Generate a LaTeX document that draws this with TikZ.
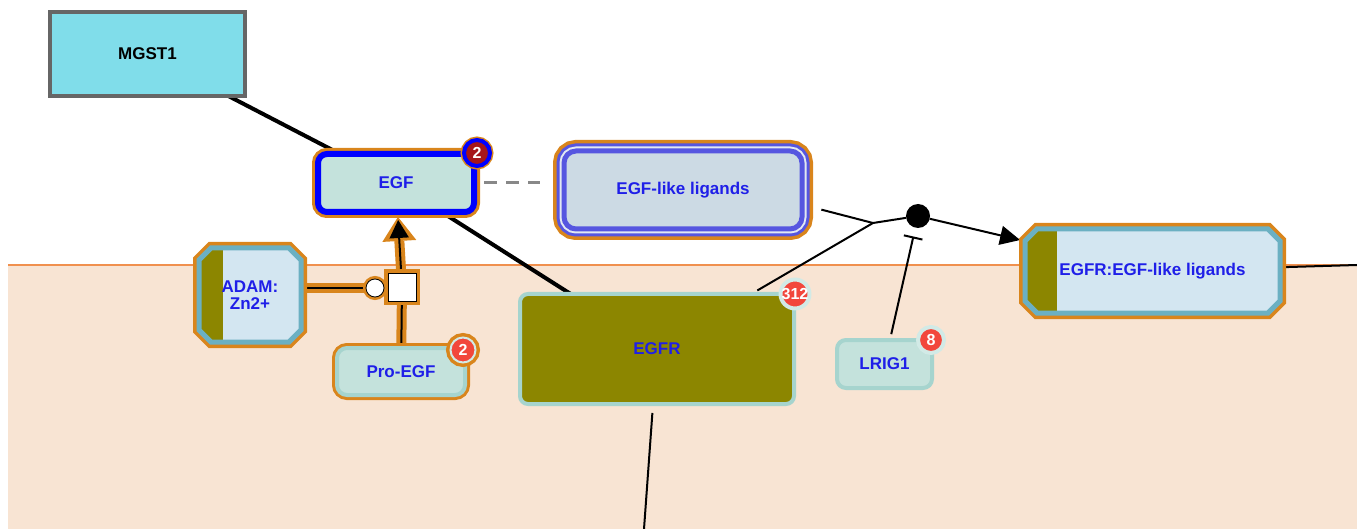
\documentclass[tikz,border=0pt]{standalone}
\usepackage{fontspec}
\setmainfont{Liberation Sans}
\usetikzlibrary{arrows.meta,calc}

\pgfdeclarelayer{cytosol}
\pgfdeclarelayer{links}
\pgfdeclarelayer{shells}
\pgfsetlayers{cytosol,links,shells,main}

\definecolor{cyto}{HTML}{F8E4D3}
\definecolor{membrane}{HTML}{F0904E}
\definecolor{halo}{HTML}{D9851C}
\definecolor{pale}{HTML}{C4E2DC}
\definecolor{iceblue}{HTML}{D3E6F1}
\definecolor{olivegreen}{HTML}{8C8600}
\definecolor{tealedge}{HTML}{A6D4CE}
\definecolor{tealdark}{HTML}{6BB0C2}
\definecolor{labelblue}{HTML}{1F1FE8}
\definecolor{pureblue}{HTML}{0000FF}
\definecolor{ligblue}{HTML}{5656E0}
\definecolor{ligfill}{HTML}{CCDAE4}
\definecolor{ligshine}{HTML}{E2E8F2}
\definecolor{mgstfill}{HTML}{80DDEA}
\definecolor{mgstedge}{HTML}{666666}
\definecolor{badgered}{HTML}{F2473C}
\definecolor{badgedark}{HTML}{A6161A}
\definecolor{dashgray}{HTML}{888888}

% chamfered outline of a complex, built on the anchors of node #1, cut size #2
\newcommand\octpath[2]{($(#1.north west)+(#2,0)$) -- ($(#1.north east)+(-#2,0)$)
  -- ($(#1.north east)+(0,#2)$) -- ($(#1.south east)+(0,-#2)$)
  -- ($(#1.south east)+(-#2,0)$) -- ($(#1.south west)+(#2,0)$)
  -- ($(#1.south west)+(0,-#2)$) -- ($(#1.north west)+(0,#2)$) -- cycle}

\tikzset{
  box/.style={rectangle, inner sep=0pt, outer sep=0pt, text=labelblue,
    font=\fontsize{17}{16.5}\selectfont\bfseries, align=center},
  mgstbox/.style={box, fill=mgstfill, draw=mgstedge, line width=4, text=black,
    minimum width=195, minimum height=84},
  egfbox/.style={box, rounded corners=9, fill=pale, draw=pureblue, line width=6,
    preaction={draw=halo, line width=12}, minimum width=156, minimum height=58},
  ligbox/.style={box, rounded corners=12, fill=ligfill, draw=ligblue, line width=5,
    preaction={draw=halo, line width=22},
    preaction={draw=ligblue, line width=15},
    preaction={draw=ligshine, line width=9},
    minimum width=238, minimum height=78},
  egfrbox/.style={box, rounded corners=8, fill=olivegreen, draw=tealedge, line width=4,
    minimum width=274, minimum height=110},
  lrigbox/.style={box, rounded corners=9, fill=pale, draw=tealedge, line width=4,
    minimum width=95, minimum height=48},
  probox/.style={box, rounded corners=10, fill=pale, draw=tealedge, line width=4,
    preaction={draw=halo, line width=10}, minimum width=128, minimum height=47},
  cplxframe/.style={box},
  badge/.style={circle, inner sep=0pt, outer sep=0pt, minimum size=26, fill=badgered,
    draw=tealedge!50!white, line width=4, text=white,
    font=\fontsize{16}{16}\selectfont\bfseries},
  darkbadge/.style={badge, fill=badgedark, draw=pureblue, line width=4,
    preaction={draw=halo, line width=7}},
  probadge/.style={badge, minimum size=25, draw=tealedge!50!white, line width=2,
    preaction={draw=halo, line width=9}},
  procbox/.style={rectangle, inner sep=0pt, outer sep=0pt, minimum size=28, fill=white,
    draw=black, line width=0.8, preaction={draw=halo, line width=8}},
  portcirc/.style={circle, inner sep=0pt, outer sep=0pt, minimum size=18, fill=white,
    draw=black, line width=0.8, preaction={draw=halo, line width=6}},
  dotnode/.style={circle, inner sep=0pt, outer sep=0pt, minimum size=24, fill=black},
  link/.style={draw=black, line width=2},
  heavy/.style={draw=black, line width=4},
  haloline/.style={draw=halo, line width=10},
}

\begin{document}
\begin{tikzpicture}[x=1pt,y=-1pt]
\useasboundingbox (0,0) rectangle (1357,529);

% cytosol and plasma membrane
\begin{pgfonlayer}{cytosol}
  \fill[cyto] (8,265) rectangle (1357,529);
  \draw[membrane, line width=2] (8,265) -- (1357,265);
\end{pgfonlayer}

% entities
\node[mgstbox] (mgst) at (147.5,54) {MGST1};
\node[egfbox] (egf) at (396,183) {EGF};
\node[darkbadge] (egfbadge) at (477,153) {2};
\node[ligbox] (lig) at (683,190) {EGF-like ligands};
\node[egfrbox] (egfr) at (657,349) {EGFR};
\node[badge] (egfrbadge) at (795,294) {312};
\node[lrigbox] (lrig) at (884.5,364) {LRIG1};
\node[badge] (lrigbadge) at (931,340) {8};
\node[probox] (proegf) at (401,371.5) {Pro-EGF};
\node[probadge] (probadge) at (463,350) {2};
\node[cplxframe, minimum width=102, minimum height=94] (adam) at (250,295) {ADAM:\\Zn2+};
\node[cplxframe, minimum width=255, minimum height=84] (cplx) at (1152.5,271) {EGFR:EGF-like ligands};

% process glyphs
\node[procbox] (proc) at (402,287) {};
\node[portcirc] (circ) at (375,288) {};
\node[dotnode] (dot) at (918,216) {};
\coordinate (junc) at (873,223);
\coordinate (egfrout) at (644,529);
\coordinate (cplxout) at (1357,265);

% complex outlines
\begin{pgfonlayer}{shells}
  \foreach \n/\s in {adam/24, cplx/32} {
    \draw[halo, line width=12, line join=miter] \octpath{\n}{12};
    \fill[iceblue] \octpath{\n}{12};
    \begin{scope}
      \clip \octpath{\n}{12};
      \fill[olivegreen] (\n.north west) rectangle ($(\n.south west)+(\s,0)$);
    \end{scope}
    \draw[tealdark, line width=5, line join=miter] \octpath{\n}{12};
  }
\end{pgfonlayer}

% connectors
\begin{pgfonlayer}{links}
  \draw[haloline] (circ -| adam.east) -- (circ);
  \draw[haloline] (proegf) -- (proc);
  \draw[haloline, -{Triangle[length=24pt, width=34pt, line width=0pt]}, shorten >=5]
    (proc) -- (egf);

  \draw[link] (circ -| adam.east) -- (circ);
  \draw[link] (proegf) -- (proc);
  \draw[link, -{Triangle[length=18pt, width=19pt]}, shorten >=8] (proc) -- (egf);

  \draw[heavy] (mgst) -- (egf);
  \draw[heavy] (egf) -- (egfr);
  \draw[draw=dashgray, line width=3, dash pattern=on 13pt off 9pt,
    shorten <=10, shorten >=24] (egf.east) -- (egf.east -| lig.west);

  \draw[link, shorten <=20] (lig.-7) -- (junc);
  \draw[link, shorten <=7] (egfr) -- (junc);
  \draw[link] (junc) -- (dot);
  \draw[link, -{Triangle[length=20pt, width=19pt]}, shorten >=5] (dot) -- (cplx);
  \draw[link, -{Bar[width=19pt]}, shorten <=6, shorten >=9] (lrig) -- (dot);
  \draw[link, shorten <=9] (egfr) -- (egfrout);
  \draw[link, shorten <=5] (cplx) -- (cplxout);
\end{pgfonlayer}
\end{tikzpicture}
\end{document}
